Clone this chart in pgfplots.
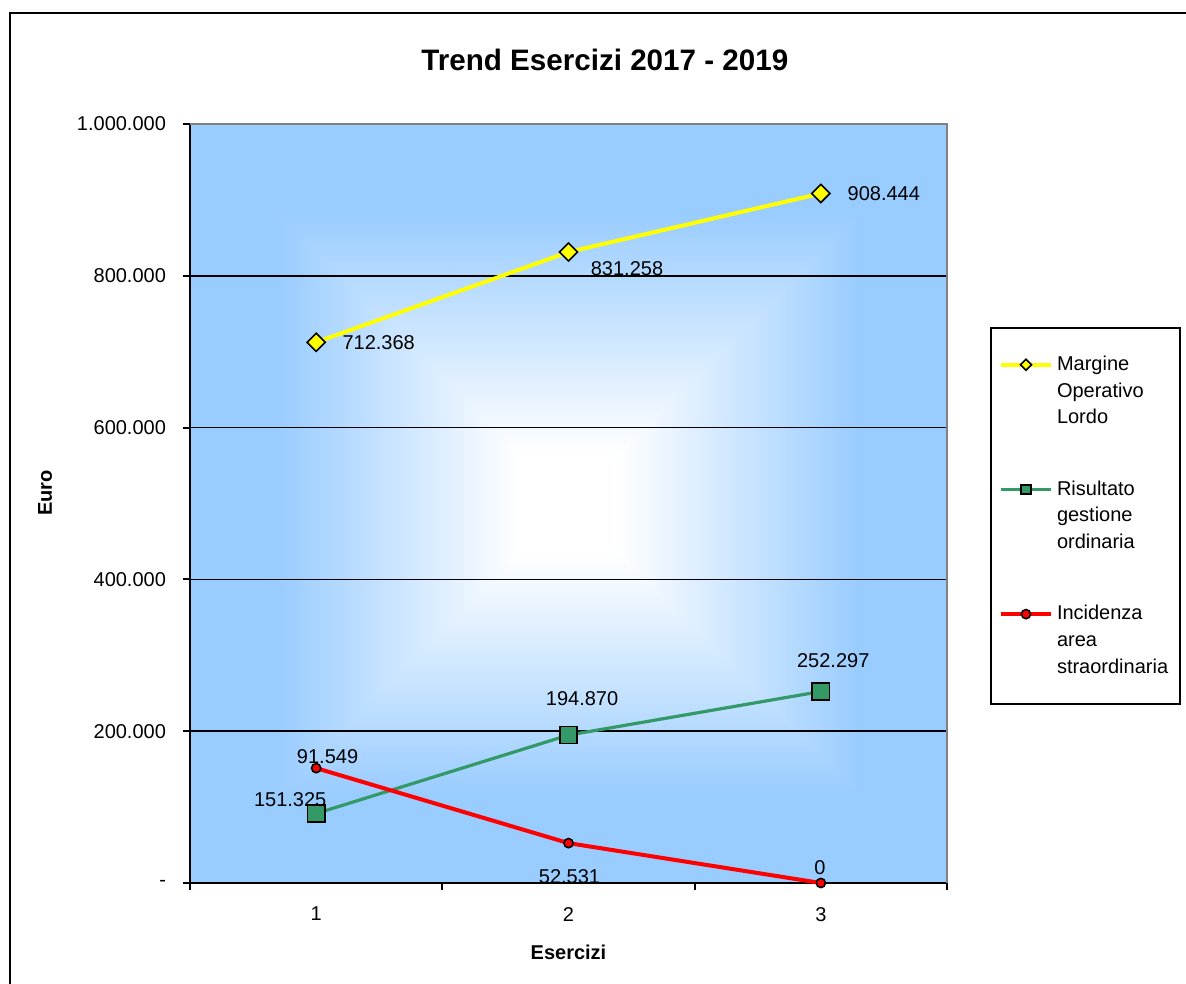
\documentclass[border=0pt]{standalone}
\usepackage{fontspec}
\setmainfont{Liberation Sans}
\usepackage{pgfplots}
\pgfplotsset{compat=1.18}
\usepackage{pgfplotstable}

\definecolor{grn}{RGB}{51,153,102}
\definecolor{bgblue}{RGB}{153,204,255}
\definecolor{ylw}{RGB}{255,255,0}

\pgfdeclarefunctionalshading{rectbg}{\pgfpoint{-50bp}{-50bp}}{\pgfpoint{50bp}{50bp}}{}{
 abs exch abs 2 copy lt {exch} if pop
 25 div 0.13 sub 0.64 div dup 0 lt {pop 0} if dup 1 gt {pop 1} if
 dup 0.4 mul 1 exch sub exch 0.2 mul 1 exch sub 1
}

\pgfplotstableread{
x y lab dx dy
1 712368 712.368 31.25 0
2 831258 831.258 29.25 -8.25
3 908444 908.444 31.5 0
}\margine

\pgfplotstableread{
x y lab dx dy
1 91549 151.325 -13 7
2 194870 194.870 6.8 18.25
3 252297 252.297 6.2 15.25
}\risultato

\pgfplotstableread{
x y lab dx dy
1 151325 91.549 5.7 6
2 52531 52.531 0.5 -16.5
3 0 0 -0.5 7.75
}\incidenza

\pgfplotsset{
  limg/.style={legend image code/.code={
    \draw[mark repeat=2, mark phase=2, /tikz/every mark/.append style={scale=#1}]
      plot coordinates {(0pt,13.3pt) (12.5pt,13.3pt) (25pt,13.3pt)};}},
  lbl/.style={
    nodes near coords,
    point meta=explicit symbolic,
    visualization depends on={\thisrow{dx} \as \dx},
    visualization depends on={\thisrow{dy} \as \dy},
    nodes near coords style={anchor=center, xshift=\dx pt, yshift=\dy pt,
      font=\fontsize{10}{12}\selectfont, text=black, inner sep=0pt},
  },
}

\begin{document}
\begin{tikzpicture}[x=1pt,y=1pt]
\useasboundingbox (0,0) rectangle (593,491.5);
\draw[line width=1pt] (5,-5) -- (5,485) -- (600,485);
\begin{axis}[
  at={(95pt,50pt)}, anchor=south west,
  scale only axis, width=378.5pt, height=379.5pt,
  xmin=0.5, xmax=3.5, ymin=0, ymax=1000000,
  clip=false,
  axis x line*=bottom, axis y line*=left,
  axis line style={black, line width=1pt},
  axis background/.style={shade, shading=rectbg},
  font=\fontsize{10}{12}\selectfont,
  tick align=outside,
  major tick length=3.5pt,
  tick style={black, line width=1pt},
  xtick={0.5,1.5,2.5,3.5}, xticklabels={},
  extra x ticks={1,2,3}, extra x tick labels={1,2,3},
  extra x tick style={major tick length=0pt, grid=none},
  xticklabel style={yshift=-8.5pt},
  ytick={0,200000,400000,600000,800000,1000000},
  yticklabels={-,200.000,400.000,600.000,800.000,1.000.000},
  scaled y ticks=false,
  yticklabel style={xshift=-5pt},
  ymajorgrids, major grid style={black, line width=0.75pt},
  xlabel={\bfseries Esercizi},
  xlabel style={at={(axis description cs:0.5,-0.091)}, anchor=center},
  ylabel={\bfseries Euro},
  ylabel style={at={(axis description cs:-0.1915,0.514)}, anchor=center},
  title={\bfseries Trend Esercizi 2017 - 2019},
  title style={at={(axis description cs:0.548,1.084)}, anchor=center, yshift=-6pt, font=\fontsize{14.8}{17}\selectfont},
  legend style={at={(axis description cs:1.0568,0.7325)}, anchor=north west,
    draw=black, line width=1pt, fill=white,
    inner xsep=4pt, inner ysep=12pt, row sep=23pt,
    font=\fontsize{10}{13.3}\selectfont,
    cells={anchor=west, align=left}},
]
\addplot[ylw, line width=2pt, mark=square*, mark size=3.2pt,
  mark options={rotate=45, fill=ylw, draw=black, line width=0.8pt}, lbl, limg=0.6]
  table[x=x, y=y, meta=lab] {\margine};
\addlegendentry{Margine\\Operativo\\Lordo}
\addplot[grn, line width=1.6pt, mark=square*, mark size=4.3pt,
  mark options={fill=grn, draw=black, line width=0.8pt}, lbl, limg=0.55]
  table[x=x, y=y, meta=lab] {\risultato};
\addlegendentry{Risultato\\gestione\\ordinaria}
\addplot[red, line width=2pt, mark=*, mark size=2.3pt,
  mark options={fill=red, draw=black, line width=0.8pt}, lbl, limg=1]
  table[x=x, y=y, meta=lab] {\incidenza};
\addlegendentry{Incidenza\\area\\straordinaria}
\draw[gray, line width=1pt] (rel axis cs:0,1) -- (rel axis cs:1,1) -- (rel axis cs:1,0);
\end{axis}
\end{tikzpicture}
\end{document}
